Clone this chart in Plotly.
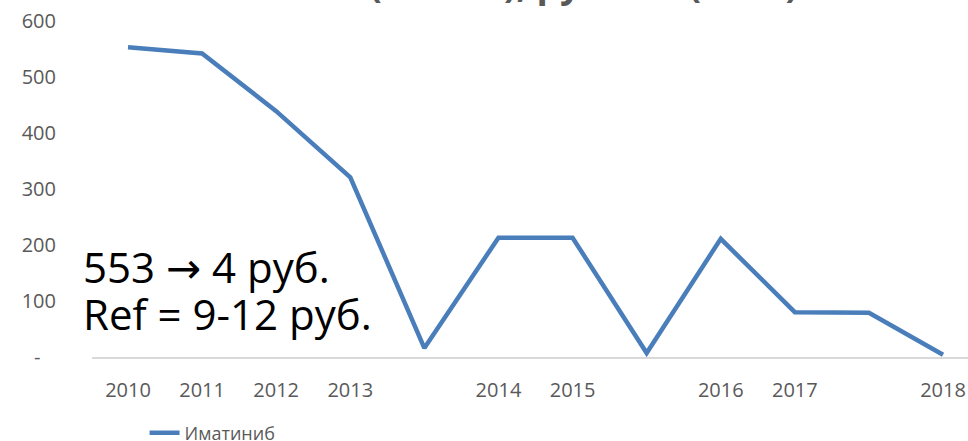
import plotly.graph_objects as go

# ---- data ----
categories = ['2010', '2011', '2012', '2013', '', '2014', '2015', '', '2016', '2017', '', '2018']
imatinib = [553, 542, 439, 321, 16, 213, 213, 7, 211, 80, 79, 4]
series_name = 'Иматиниб'
y_ticks = [0, 100, 200, 300, 400, 500, 600]
y_tick_text = ['-\u00a0\u00a0\u00a0', '100', '200', '300', '400', '500', '600']
note_line1 = '553 <span style="font-family:DejaVu Sans">\u2192</span> 4 руб.'
note_line2 = 'Ref = 9-12 руб.'
title_text = 'Стоимость DDD (400 мг), руб./мг (2018)'

x_idx = list(range(len(categories)))

FONT = 'Open Sans'
GRAY = '#595959'
BLUE = '#4A7EBB'

fig = go.Figure()
fig.add_trace(go.Scatter(
    x=x_idx, y=imatinib, mode='lines', name=series_name,
    line=dict(color=BLUE, width=4.5),
))

fig.update_layout(
    width=968, height=441,
    margin=dict(l=92, r=0, t=20.5, b=83.5, pad=0, autoexpand=False),
    paper_bgcolor='white', plot_bgcolor='white',
    font=dict(family=FONT, size=20, color=GRAY),
    showlegend=True,
    legend=dict(orientation='h', x=0.06, xanchor='left', yref='container', y=0.018, yanchor='middle',
                font=dict(family=FONT, size=18, color=GRAY), bgcolor='rgba(0,0,0,0)'),
    xaxis=dict(range=[-0.486, 11.337], tickmode='array', tickvals=x_idx, ticktext=categories,
               showgrid=False, zeroline=False, showline=True, linecolor='#D9D9D9', linewidth=1.5,
               ticks='', ticklabelstandoff=14, tickfont=dict(family=FONT, size=20, color=GRAY),
               automargin=False, fixedrange=True),
    yaxis=dict(range=[0, 600], tickmode='array', tickvals=y_ticks, ticktext=y_tick_text,
               showgrid=False, zeroline=False, showline=False, ticks='',
               ticklabelstandoff=35, tickfont=dict(family=FONT, size=20, color=GRAY),
               automargin=False, fixedrange=True),
)

fig.add_annotation(text=note_line1, xref='paper', yref='y', x=-0.013, y=162,
                   xanchor='left', yanchor='middle', showarrow=False,
                   font=dict(family=FONT, size=42, color='black'))
fig.add_annotation(text=note_line2, xref='paper', yref='y', x=-0.013, y=77,
                   xanchor='left', yanchor='middle', showarrow=False,
                   font=dict(family=FONT, size=42, color='black'))
fig.add_annotation(text='<b>' + title_text + '</b>', xref='paper', yref='paper',
                   x=0.383, y=1.032, xanchor='center', yanchor='bottom', showarrow=False,
                   font=dict(family=FONT, size=37, color=GRAY))

fig.write_html('out.html', post_script="document.body.style.margin='0';",
               config={'displayModeBar': False})
